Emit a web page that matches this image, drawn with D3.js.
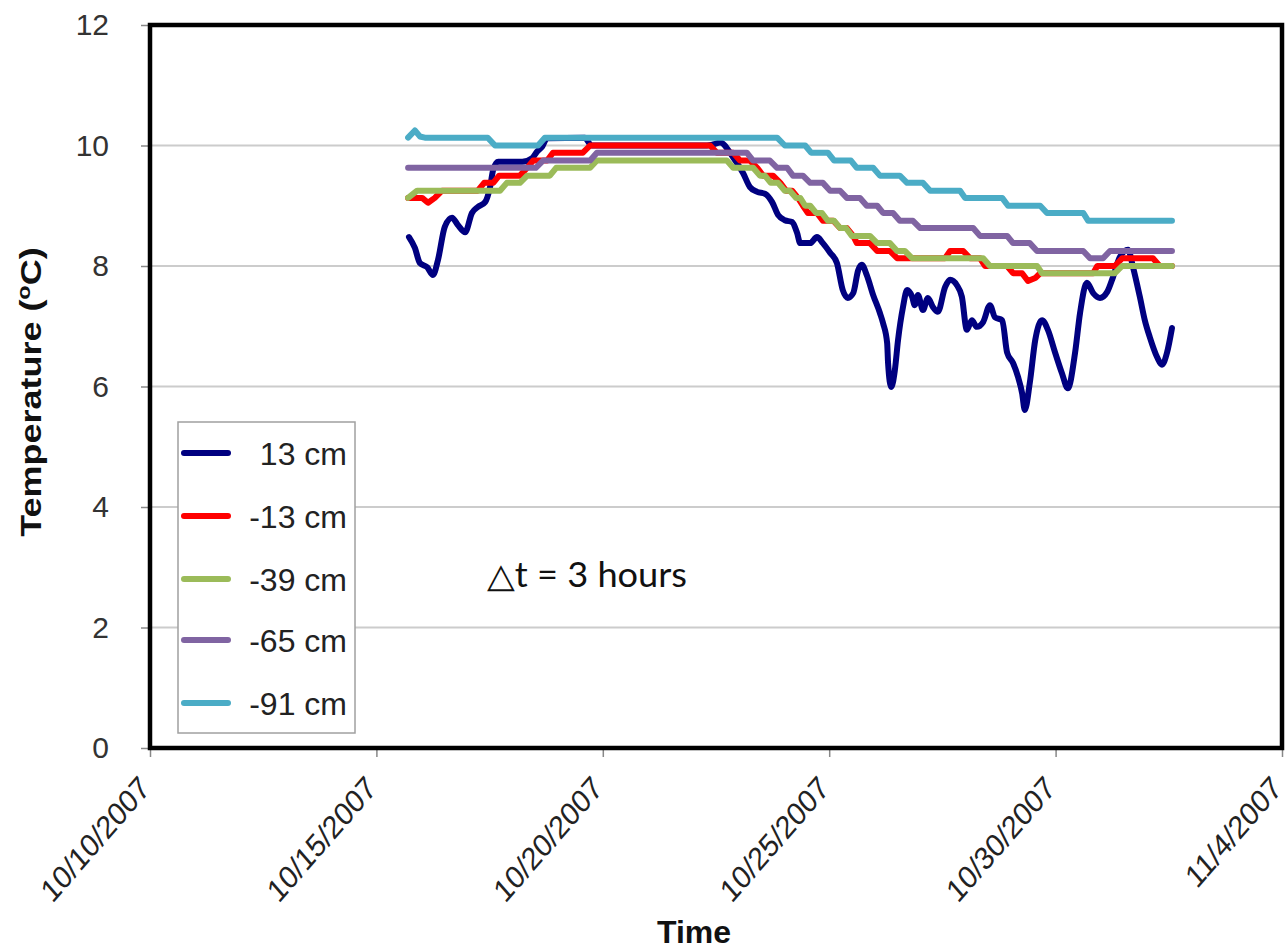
<!DOCTYPE html>
<html>
<head>
<meta charset="utf-8">
<script src="https://cdn.jsdelivr.net/npm/d3@7"></script>
<style>
  html, body { margin: 0; padding: 0; background: #fff; }
  svg { display: block; }
</style>
</head>
<body>
<svg id="chart" width="1287" height="951"></svg>
<script>
// ---- Data (time given as fractional day of October 2007; 32 = Nov 1) ----
const seriesNames = [" 13 cm", "-13 cm", "-39 cm", "-65 cm", "-91 cm"];
const seriesColors = ["#000080", "#ff0000", "#9bbb59", "#8064a2", "#4bacc6"];
const xTickDates = ["2007-10-10", "2007-10-15", "2007-10-20", "2007-10-25", "2007-10-30", "2007-11-04"];
const yTicks = [0, 2, 4, 6, 8, 10, 12];

const days13 = [15.72,15.85,15.96,16.12,16.25,16.36,16.51,16.67,16.80,16.96,17.11,17.24,17.40,17.51,17.58,17.69,18.22,18.44,18.55,18.66,18.77,19.60,19.75,22.30,22.45,22.59,22.88,23.10,23.25,23.41,23.58,23.74,23.87,24.02,24.18,24.29,24.36,24.58,24.73,24.86,25.02,25.17,25.30,25.41,25.53,25.64,25.72,25.83,25.97,26.12,26.19,26.28,26.30,26.37,26.45,26.52,26.63,26.72,26.83,26.89,26.96,27.07,27.18,27.29,27.40,27.56,27.67,27.82,27.93,28.04,28.15,28.26,28.40,28.55,28.66,28.82,28.93,29.06,29.17,29.26,29.32,29.43,29.55,29.70,29.83,29.99,30.14,30.27,30.43,30.54,30.69,30.83,30.98,31.14,31.27,31.42,31.60,31.71,31.86,31.97,32.08,32.24,32.35,32.46,32.57];
const temp13 = [8.48,8.30,8.05,7.98,7.85,8.10,8.65,8.80,8.68,8.56,8.88,8.98,9.06,9.31,9.60,9.73,9.73,9.79,9.90,9.98,10.12,10.13,10.00,10.00,10.02,10.05,9.80,9.54,9.31,9.23,9.20,9.06,8.85,8.76,8.73,8.55,8.38,8.38,8.48,8.38,8.22,8.05,7.60,7.47,7.55,7.93,8.02,7.85,7.52,7.22,7.05,6.72,6.39,5.99,6.27,6.77,7.32,7.60,7.49,7.35,7.52,7.27,7.47,7.32,7.24,7.65,7.77,7.68,7.49,6.94,7.10,6.99,7.07,7.35,7.15,7.10,6.56,6.39,6.16,5.89,5.61,6.06,6.77,7.10,6.94,6.56,6.22,5.97,6.56,7.22,7.72,7.55,7.47,7.57,7.82,8.15,8.27,7.98,7.49,7.10,6.82,6.49,6.36,6.56,6.97];

const daysM13 = [15.70,16.01,16.14,16.29,16.45,17.24,17.38,17.58,17.71,18.17,18.33,18.46,18.77,18.90,19.56,19.72,22.37,22.52,22.88,23.03,23.25,23.41,23.54,23.76,23.92,24.05,24.18,24.31,24.42,24.53,24.73,24.86,25.09,25.24,25.39,25.53,25.61,25.90,26.06,26.34,26.50,27.56,27.67,27.96,28.11,28.33,28.44,28.93,29.06,29.26,29.39,29.55,29.66,30.83,30.92,31.31,31.47,32.15,32.30,32.57];
const tempM13 = [9.13,9.13,9.05,9.13,9.25,9.25,9.38,9.38,9.50,9.50,9.63,9.75,9.75,9.88,9.88,10.00,10.00,9.88,9.88,9.75,9.75,9.63,9.50,9.50,9.38,9.25,9.25,9.13,9.00,8.88,8.88,8.75,8.75,8.63,8.63,8.50,8.38,8.38,8.25,8.25,8.13,8.13,8.25,8.25,8.13,8.13,8.00,8.00,7.88,7.88,7.75,7.80,7.88,7.88,8.00,8.00,8.13,8.13,8.00,8.00];

const daysM39 = [15.70,15.90,17.73,17.88,18.17,18.33,18.83,18.97,19.72,19.87,22.74,22.88,23.32,23.47,23.58,23.71,23.87,24.02,24.13,24.27,24.36,24.47,24.58,24.71,24.84,24.97,25.11,25.24,25.37,25.50,25.90,26.06,26.34,26.50,26.67,26.83,28.40,28.55,29.59,29.70,31.31,31.47,32.57];
const tempM39 = [9.13,9.25,9.25,9.38,9.38,9.50,9.50,9.63,9.63,9.75,9.75,9.63,9.63,9.50,9.50,9.38,9.38,9.25,9.25,9.13,9.13,9.00,9.00,8.88,8.88,8.75,8.75,8.63,8.63,8.50,8.50,8.38,8.38,8.25,8.25,8.13,8.13,8.00,8.00,7.88,7.88,8.00,8.00];

const daysM65 = [15.70,18.52,18.68,19.72,19.87,23.18,23.32,23.69,23.85,24.07,24.20,24.42,24.58,24.86,25.02,25.24,25.39,25.68,25.83,26.06,26.19,26.41,26.56,26.85,27.01,28.18,28.33,28.93,29.06,29.43,29.59,30.61,30.76,31.05,31.20,32.57];
const tempM65 = [9.63,9.63,9.75,9.75,9.88,9.88,9.75,9.75,9.63,9.63,9.50,9.50,9.38,9.38,9.25,9.25,9.13,9.13,9.00,9.00,8.88,8.88,8.75,8.75,8.63,8.63,8.50,8.50,8.38,8.38,8.25,8.25,8.13,8.13,8.25,8.25];

const daysM91 = [15.70,15.85,15.96,16.07,17.46,17.62,18.57,18.72,23.85,24.02,24.47,24.60,24.97,25.11,25.48,25.61,25.97,26.12,26.56,26.72,27.07,27.23,27.89,28.00,28.82,28.95,29.66,29.81,30.61,30.72,32.57];
const tempM91 = [10.13,10.25,10.15,10.13,10.13,10.00,10.00,10.13,10.13,10.00,10.00,9.88,9.88,9.75,9.75,9.63,9.63,9.50,9.50,9.38,9.38,9.25,9.25,9.13,9.13,9.00,9.00,8.88,8.88,8.75,8.75];

const allDays = [days13, daysM13, daysM39, daysM65, daysM91];
const allTemps = [temp13, tempM13, tempM39, tempM65, tempM91];

// ---- Layout ----
const svg = d3.select("#chart");
const L = 150, R = 1282, T = 25, B = 748;
const toDate = d => new Date(Date.UTC(2007, 9, 1) + (d - 1) * 864e5);
const parseTick = d3.utcParse("%Y-%m-%d");
const FONT = "'Liberation Sans', Arial, sans-serif";

const x = d3.scaleUtc()
  .domain([parseTick(xTickDates[0]), parseTick(xTickDates[xTickDates.length - 1])])
  .range([L, R]);
const y = d3.scaleLinear().domain([0, 12]).range([B, T]);

// gridlines
svg.append("g")
  .selectAll("line").data(yTicks.filter(v => v > 0 && v < 12)).join("line")
  .attr("x1", L).attr("x2", R)
  .attr("y1", d => y(d)).attr("y2", d => y(d))
  .attr("stroke", "#cccccc").attr("stroke-width", 2);

// y axis
const yAxis = svg.append("g").attr("transform", `translate(${L},0)`)
  .call(d3.axisLeft(y).tickValues(yTicks).tickSize(9).tickPadding(32).tickFormat(d3.format("d")));
yAxis.select(".domain").remove();
yAxis.selectAll(".tick line").attr("stroke", "#888").attr("stroke-width", 1.5);
yAxis.selectAll(".tick text")
  .attr("font-family", FONT)
  .attr("font-size", 30).attr("fill", "#333");

// x axis
const xAxis = svg.append("g").attr("transform", `translate(0,${B})`)
  .call(d3.axisBottom(x).tickValues(xTickDates.map(parseTick)).tickSize(9)
        .tickFormat(d3.utcFormat("%-m/%-d/%Y")));
xAxis.select(".domain").remove();
xAxis.selectAll(".tick line").attr("stroke", "#888").attr("stroke-width", 1.5);
xAxis.selectAll(".tick text")
  .attr("font-family", FONT)
  .attr("font-size", 28).attr("fill", "#222")
  .attr("text-anchor", "end")
  .attr("x", 0).attr("y", 0).attr("dy", 0)
  .attr("transform", "translate(1,42) scale(1,1.15) rotate(-45)");

// series lines
const line = d3.line().x(d => x(d[0])).y(d => y(d[1])).curve(d3.curveMonotoneX);
const stepLine = d3.line().x(d => x(d[0])).y(d => y(d[1])).curve(d3.curveLinear);
allDays.forEach((days, i) => {
  const pts = days.map((d, j) => [toDate(d), allTemps[i][j]]);
  svg.append("path")
    .attr("d", (i === 0 ? line : stepLine)(pts))
    .attr("fill", "none")
    .attr("stroke", seriesColors[i])
    .attr("stroke-width", 6)
    .attr("stroke-linejoin", "round")
    .attr("stroke-linecap", "round");
});

// plot frame
svg.append("rect")
  .attr("x", L).attr("y", T).attr("width", R - L).attr("height", B - T)
  .attr("fill", "none").attr("stroke", "#000").attr("stroke-width", 4.5);

// legend
const lg = svg.append("g");
lg.append("rect").attr("x", 178).attr("y", 422).attr("width", 177).attr("height", 311)
  .attr("fill", "#fff").attr("stroke", "#a0a0a0").attr("stroke-width", 1.5);
const legendY = [453, 516, 579, 640, 703];
seriesNames.forEach((name, i) => {
  lg.append("line").attr("x1", 184).attr("x2", 228)
    .attr("y1", legendY[i]).attr("y2", legendY[i])
    .attr("stroke", seriesColors[i]).attr("stroke-width", 6).attr("stroke-linecap", "round");
  lg.append("text").attr("x", 347).attr("y", legendY[i] + 12)
    .attr("text-anchor", "end")
    .attr("font-family", FONT)
    .attr("font-size", 32).attr("fill", "#222")
    .text(name);
});

// annotation
svg.append("text").attr("x", 487).attr("y", 587)
  .attr("font-family", "Lato, 'Open Sans', sans-serif")
  .attr("font-size", 34).attr("fill", "#111")
  .attr("textLength", 200).attr("lengthAdjust", "spacingAndGlyphs")
  .text("\u25B3t = 3 hours");

// axis titles
svg.append("text")
  .attr("transform", "translate(41,392) rotate(-90) scale(1.24,1)")
  .attr("text-anchor", "middle")
  .attr("font-family", FONT)
  .attr("font-size", 29).attr("font-weight", "bold").attr("fill", "#111")
  .call(t => {
    t.append("tspan").text("Temperature (");
    t.append("tspan").attr("font-size", 19).attr("dy", -11).text("o");
    t.append("tspan").attr("dy", 11).text("C)");
  });

svg.append("text").attr("x", 694).attr("y", 943)
  .attr("text-anchor", "middle")
  .attr("font-family", FONT)
  .attr("font-size", 32).attr("font-weight", "bold").attr("fill", "#111")
  .text("Time");
</script>
</body>
</html>
